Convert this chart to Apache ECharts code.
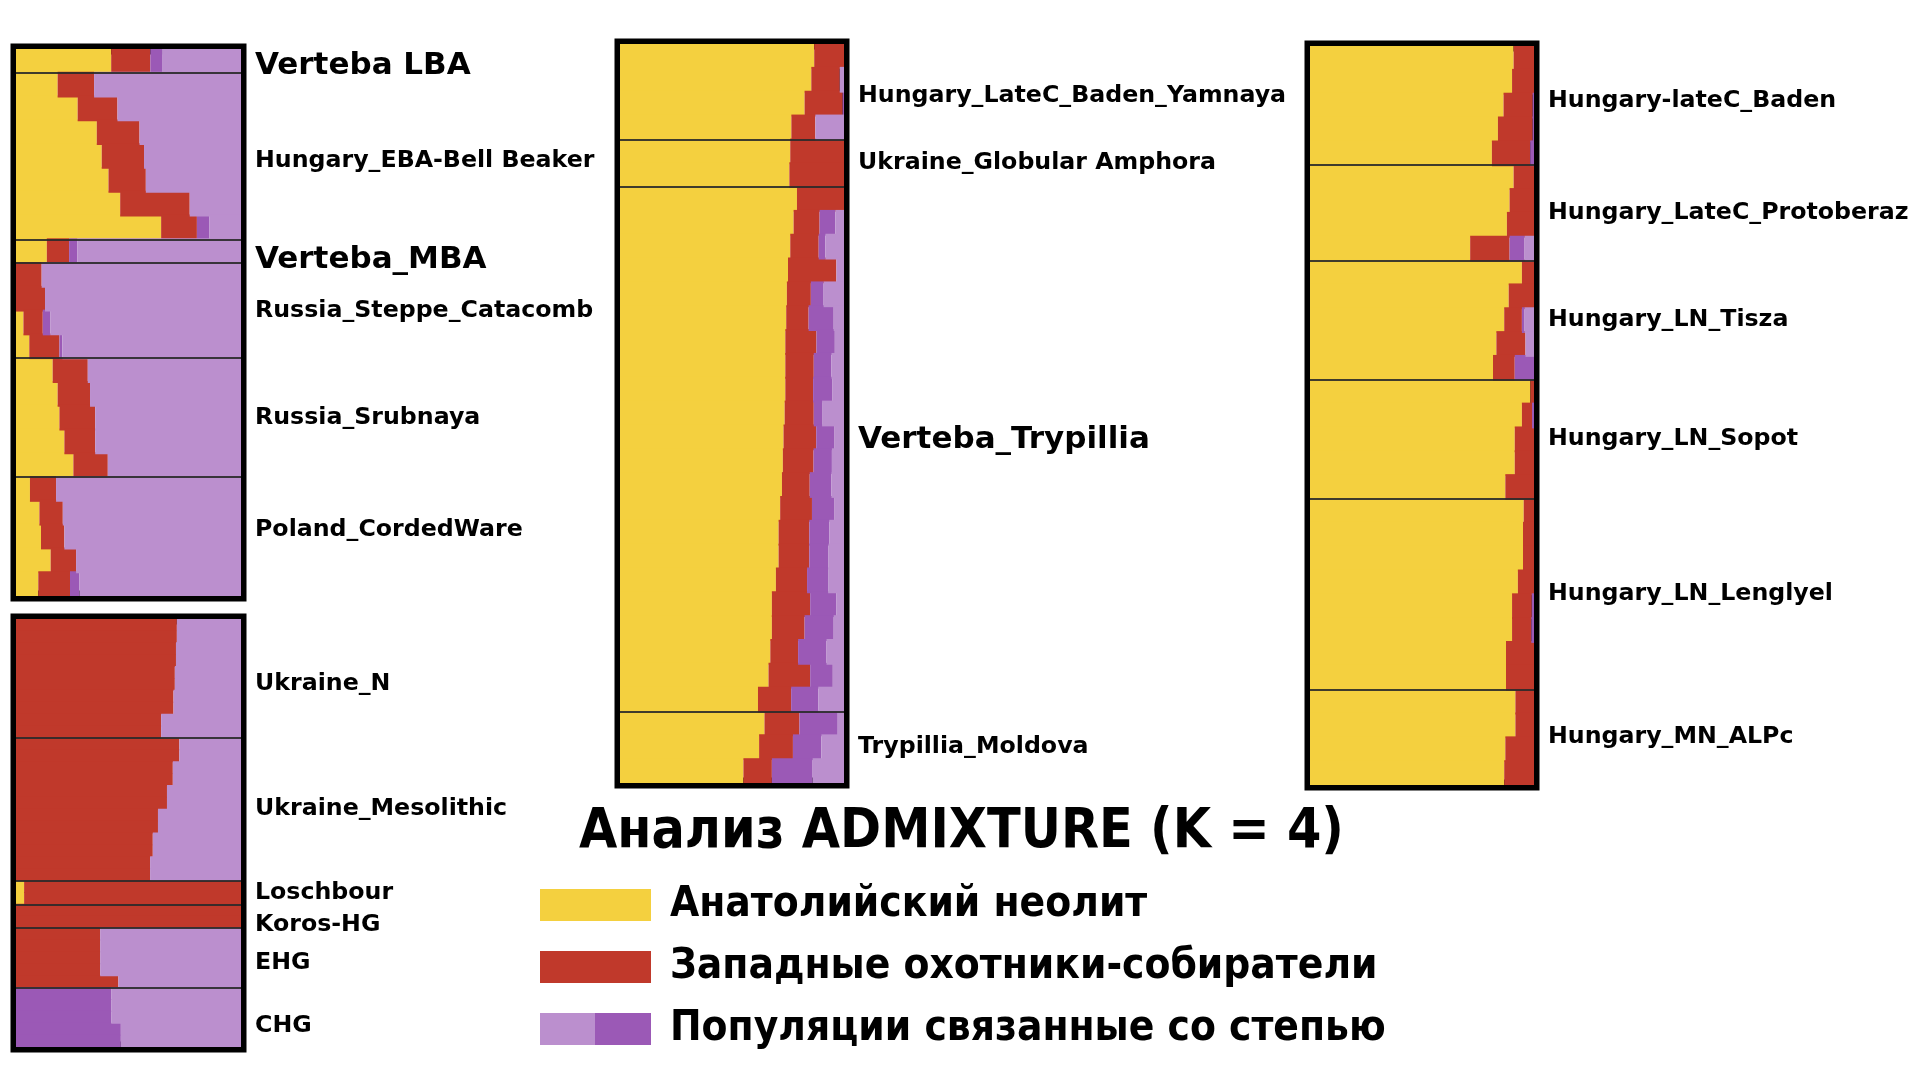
<!DOCTYPE html>
<html>
<head>
<meta charset="utf-8">
<title>ADMIXTURE K=4</title>
<script src="https://cdn.jsdelivr.net/npm/echarts@6.0.0/dist/echarts.min.js"></script>
<style>
  html, body { margin: 0; padding: 0; background: #fff; }
  #chart { width: 1920px; height: 1080px; }
</style>
</head>
<body>
<div id="chart"></div>
<script>
// every row: [yellow, red, dark purple, light purple]
const compNames = ['Анатолийский неолит', 'Западные охотники-собиратели', 'Популяции связанные со степью'];

// left, upper panel
const vertebaLBA = [[0.423, 0.174, 0.052, 0.351]];
const hungaryEBA = [
    [0.185, 0.162, 0, 0.653],
    [0.274, 0.177, 0, 0.549],
    [0.359, 0.190, 0, 0.451],
    [0.381, 0.188, 0, 0.431],
    [0.411, 0.166, 0, 0.423],
    [0.463, 0.309, 0, 0.228],
    [0.645, 0.159, 0.056, 0.140]
];
const vertebaMBA = [[0.137, 0.099, 0.037, 0.727]];
const russiaCatacomb = [
    [0, 0.114, 0, 0.886],
    [0, 0.129, 0, 0.871],
    [0.033, 0.086, 0.033, 0.848],
    [0.059, 0.134, 0.013, 0.794]
];
const russiaSrubnaya = [
    [0.163, 0.156, 0, 0.681],
    [0.185, 0.144, 0, 0.671],
    [0.193, 0.159, 0, 0.648],
    [0.215, 0.137, 0, 0.648],
    [0.255, 0.153, 0, 0.592]
];
const polandCW = [
    [0.062, 0.116, 0, 0.822],
    [0.104, 0.104, 0, 0.792],
    [0.111, 0.104, 0, 0.785],
    [0.154, 0.113, 0, 0.733],
    [0.099, 0.141, 0.042, 0.718]
];

// left, lower panel
const ukraineN = [
    [0, 0.715, 0, 0.285],
    [0, 0.711, 0, 0.289],
    [0, 0.706, 0, 0.294],
    [0, 0.700, 0, 0.300],
    [0, 0.645, 0, 0.355]
];
const ukraineMeso = [
    [0, 0.726, 0, 0.274],
    [0, 0.697, 0, 0.303],
    [0, 0.671, 0, 0.329],
    [0, 0.631, 0, 0.369],
    [0, 0.608, 0, 0.392],
    [0, 0.596, 0, 0.404]
];
const loschbour = [[0.036, 0.964, 0, 0]];
const korosHG = [[0, 1, 0, 0]];
const ehg = [
    [0, 0.374, 0, 0.626],
    [0, 0.374, 0, 0.626],
    [0, 0.374, 0, 0.626],
    [0, 0.374, 0, 0.626],
    [0, 0.455, 0, 0.545]
];
const chg = [
    [0, 0, 0.423, 0.577],
    [0, 0, 0.423, 0.577],
    [0, 0, 0.423, 0.577],
    [0, 0, 0.466, 0.534],
    [0, 0, 0.466, 0.534]
];

// middle panel
const hungaryBadenYamnaya = [
    [0.867, 0.133, 0, 0],
    [0.854, 0.127, 0, 0.019],
    [0.824, 0.170, 0.006, 0],
    [0.765, 0.107, 0, 0.128]
];
const ukraineGA = [
    [0.760, 0.240, 0, 0],
    [0.756, 0.244, 0, 0]
];
const vertebaTrypillia = [
    [0.790, 0.210, 0, 0],
    [0.775, 0.116, 0.070, 0.039],
    [0.760, 0.127, 0.030, 0.083],
    [0.750, 0.216, 0, 0.034],
    [0.745, 0.107, 0.057, 0.091],
    [0.742, 0.100, 0.112, 0.046],
    [0.738, 0.139, 0.082, 0.041],
    [0.738, 0.127, 0.079, 0.056],
    [0.738, 0.124, 0.085, 0.053],
    [0.735, 0.130, 0.037, 0.098],
    [0.730, 0.146, 0.082, 0.042],
    [0.727, 0.137, 0.082, 0.054],
    [0.723, 0.124, 0.097, 0.056],
    [0.715, 0.142, 0.101, 0.042],
    [0.708, 0.137, 0.089, 0.066],
    [0.708, 0.137, 0.086, 0.069],
    [0.696, 0.139, 0.094, 0.071],
    [0.678, 0.171, 0.116, 0.035],
    [0.678, 0.146, 0.130, 0.046],
    [0.671, 0.124, 0.127, 0.078],
    [0.663, 0.186, 0.101, 0.050],
    [0.616, 0.148, 0.121, 0.115]
];
const trypilliaMoldova = [
    [0.645, 0.156, 0.171, 0.028],
    [0.621, 0.151, 0.127, 0.101],
    [0.551, 0.127, 0.182, 0.140]
];

// right panel
const hungaryBaden = [
    [0.909, 0.091, 0, 0],
    [0.902, 0.098, 0, 0],
    [0.864, 0.130, 0.006, 0],
    [0.839, 0.155, 0.006, 0],
    [0.812, 0.171, 0.017, 0]
];
const protoberaz = [
    [0.909, 0.091, 0, 0],
    [0.891, 0.109, 0, 0],
    [0.879, 0.121, 0, 0],
    [0.715, 0.176, 0.067, 0.042]
];
const tisza = [
    [0.946, 0.054, 0, 0],
    [0.887, 0.113, 0, 0],
    [0.867, 0.079, 0.012, 0.042],
    [0.832, 0.130, 0, 0.038],
    [0.817, 0.097, 0.086, 0]
];
const sopot = [
    [0.984, 0.016, 0, 0],
    [0.946, 0.045, 0.009, 0],
    [0.914, 0.086, 0, 0],
    [0.914, 0.086, 0, 0],
    [0.872, 0.128, 0, 0]
];
const lengyel = [
    [0.954, 0.046, 0, 0],
    [0.951, 0.049, 0, 0],
    [0.951, 0.049, 0, 0],
    [0.928, 0.072, 0, 0],
    [0.902, 0.088, 0.010, 0],
    [0.902, 0.086, 0.012, 0],
    [0.875, 0.125, 0, 0],
    [0.875, 0.125, 0, 0]
];
const alpc = [
    [0.917, 0.083, 0, 0],
    [0.917, 0.083, 0, 0],
    [0.872, 0.128, 0, 0],
    [0.867, 0.133, 0, 0]
];

// group names, rows and row height (units) per panel
const leftTopNames = ['Verteba LBA', 'Hungary_EBA-Bell Beaker', 'Verteba_MBA', 'Russia_Steppe_Catacomb', 'Russia_Srubnaya', 'Poland_CordedWare'];
const leftTopRows = [vertebaLBA, hungaryEBA, vertebaMBA, russiaCatacomb, russiaSrubnaya, polandCW];
const leftTopUnits = [1, 1, 1, 1, 1, 1];

const leftBottomNames = ['Ukraine_N', 'Ukraine_Mesolithic', 'Loschbour', 'Koros-HG', 'EHG', 'CHG'];
const leftBottomRows = [ukraineN, ukraineMeso, loschbour, korosHG, ehg, chg];
const leftBottomUnits = [2, 2, 2, 2, 1, 1];

const middleNames = ['Hungary_LateC_Baden_Yamnaya', 'Ukraine_Globular Amphora', 'Verteba_Trypillia', 'Trypillia_Moldova'];
const middleRows = [hungaryBadenYamnaya, ukraineGA, vertebaTrypillia, trypilliaMoldova];
const middleUnits = [1, 1, 1, 1];

const rightNames = ['Hungary-lateC_Baden', 'Hungary_LateC_Protoberaz', 'Hungary_LN_Tisza', 'Hungary_LN_Sopot', 'Hungary_LN_Lenglyel', 'Hungary_MN_ALPc'];
const rightRows = [hungaryBaden, protoberaz, tisza, sopot, lengyel, alpc];
const rightUnits = [1, 1, 1, 1, 1, 1];

const bigLabels = ['Verteba LBA', 'Verteba_MBA', 'Verteba_Trypillia'];

const colors = ['#F4D03F', '#C0392B', '#9B59B6', '#BB8FCE'];
const labelFont = 'DejaVu Sans';
const condFont = "'DejaVu Sans Condensed', 'Liberation Sans Narrow', 'DejaVu Sans', sans-serif";

// small vertical nudges (px) for labels that sit off the group centre in the original
const labelNudge = {
    'Verteba LBA': 5, 'Hungary_EBA-Bell Beaker': 5, 'Verteba_MBA': 9, 'Poland_CordedWare': -7,
    'Ukraine_N': 5, 'Koros-HG': 9, 'EHG': 5, 'CHG': 9,
    'Hungary_LateC_Baden_Yamnaya': 4, 'Verteba_Trypillia': -9, 'Hungary-lateC_Baden': -5
};

const panels = [
    {names: leftTopNames, rows: leftTopRows, units: leftTopUnits, grid: {left: 16, top: 49, width: 225, height: 547}},
    {names: leftBottomNames, rows: leftBottomRows, units: leftBottomUnits, grid: {left: 16, top: 619, width: 225, height: 428}},
    {names: middleNames, rows: middleRows, units: middleUnits, grid: {left: 620, top: 44, width: 224, height: 739}},
    {names: rightNames, rows: rightRows, units: rightUnits, grid: {left: 1310, top: 46, width: 224, height: 739}}
];

let grids = [], xAxes = [], yAxes = [], series = [];

panels.forEach(function (p, idx) {
    let cats = [], cols = [[], [], [], []], labels = [], bounds = [], pos = 0;
    p.rows.forEach(function (grp, g) {
        let u = p.units[g];
        if (g > 0) bounds.push(pos);
        let start = pos;
        grp.forEach(function (r, i) {
            for (let k = 0; k < u; k++) {
                cats.push(g + '_' + i + '_' + k);
                for (let c = 0; c < 4; c++) cols[c].push(r[c]);
                pos++;
            }
        });
        let name = p.names[g];
        let big = bigLabels.indexOf(name) >= 0;
        labels.push({
            name: name,
            value: [1, (start + pos) / 2],
            label: {fontSize: big ? 31 : 23.7, offset: [0, labelNudge[name] || 0]}
        });
    });

    grids.push(Object.assign({show: true, borderColor: '#000', borderWidth: 11, backgroundColor: 'transparent'}, p.grid));
    xAxes.push({type: 'value', gridIndex: idx, min: 0, max: 1, show: false});
    yAxes.push({type: 'category', gridIndex: idx, data: cats, inverse: true, show: false});
    yAxes.push({type: 'value', gridIndex: idx, min: 0, max: pos, inverse: true, show: false});

    // stacked bars: yellow, red, dark purple, light purple
    for (let c = 0; c < 4; c++) {
        series.push({
            type: 'bar',
            name: compNames[Math.min(c, 2)],
            stack: 'p' + idx,
            xAxisIndex: idx,
            yAxisIndex: idx * 2,
            barWidth: '108%',   // slight overlap hides hairline seams between rows
            itemStyle: {color: colors[c]},
            emphasis: {disabled: true},
            silent: true,
            data: cols[c]
        });
    }

    // group labels + separators
    series.push({
        type: 'scatter',
        name: 'labels' + idx,
        xAxisIndex: idx,
        yAxisIndex: idx * 2 + 1,
        symbolSize: 0,
        clip: false,
        silent: true,
        z: 5,
        itemStyle: {opacity: 1},
        label: {
            show: true,
            position: 'right',
            distance: 14,
            formatter: '{b}',
            fontFamily: labelFont,
            fontWeight: 'bold',
            color: '#000',
            opacity: 1
        },
        markLine: {
            silent: true,
            symbol: 'none',
            label: {show: false},
            lineStyle: {color: '#2a2a2a', width: 2, type: 'solid', opacity: 0.9},
            data: bounds.map(function (b) { return {yAxis: b}; })
        },
        data: labels
    });
});

const purpleSwatch = {
    type: 'linear', x: 0, y: 0, x2: 1, y2: 0,
    colorStops: [
        {offset: 0, color: colors[3]},
        {offset: 0.5, color: colors[3]},
        {offset: 0.5, color: colors[2]},
        {offset: 1, color: colors[2]}
    ]
};

let chart = echarts.init(document.getElementById('chart'));
let option = {
    animation: false,
    backgroundColor: '#fff',
    title: {
        text: 'Анализ ADMIXTURE (K = 4)',
        left: 574,
        top: 800,
        textStyle: {fontFamily: condFont, fontWeight: 'bold', fontSize: 55, color: '#000'}
    },
    legend: {
        orient: 'vertical',
        left: 540,
        top: 884,
        padding: 0,
        itemWidth: 111,
        itemHeight: 32,
        itemGap: 20,
        icon: 'rect',
        selectedMode: false,
        textStyle: {fontFamily: condFont, fontWeight: 'bold', fontSize: 42, lineHeight: 42, color: '#000', padding: [0, 0, 0, 14]},
        data: [
            {name: compNames[0]},
            {name: compNames[1]},
            {name: compNames[2], itemStyle: {color: purpleSwatch}}
        ]
    },
    grid: grids,
    xAxis: xAxes,
    yAxis: yAxes,
    series: series
};
chart.setOption(option, true);
</script>
</body>
</html>
